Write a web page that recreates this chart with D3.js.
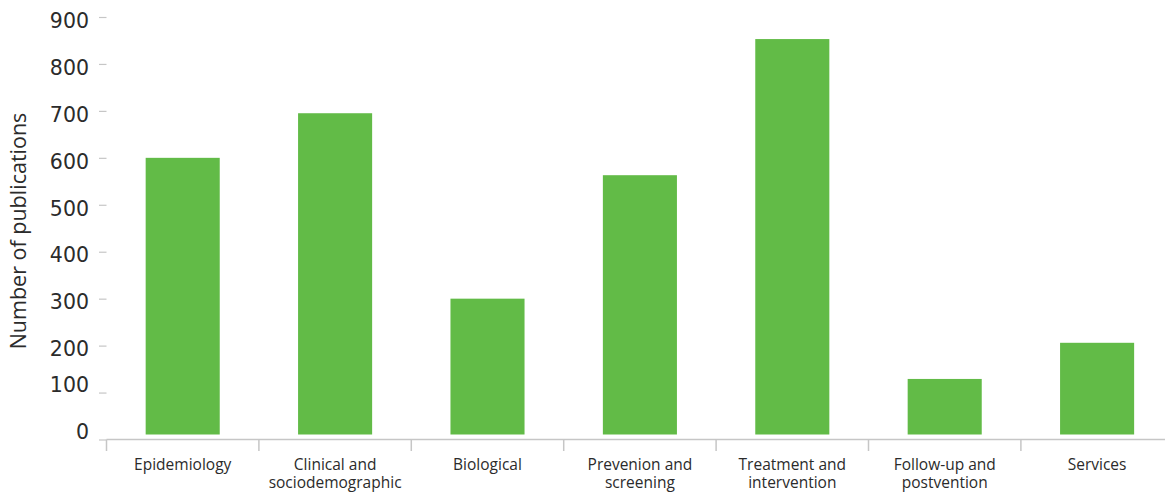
<!DOCTYPE html>
<html>
<head>
<meta charset="utf-8">
<script src="https://cdn.jsdelivr.net/npm/d3@7"></script>
<style>
  html, body { margin: 0; padding: 0; background: #fff; }
  svg { display: block; }
</style>
</head>
<body>
<svg id="chart" width="1165" height="492"></svg>
<script>
const categories = [
  "Epidemiology",
  "Clinical and sociodemographic",
  "Biological",
  "Prevenion and screening",
  "Treatment and intervention",
  "Follow-up and postvention",
  "Services"
];
const categoryLines = [
  ["Epidemiology"],
  ["Clinical and", "sociodemographic"],
  ["Biological"],
  ["Prevenion and", "screening"],
  ["Treatment and", "intervention"],
  ["Follow-up and", "postvention"],
  ["Services"]
];
const publications = [600, 695, 300, 563, 853, 129, 206];
const yTicks = [0, 100, 200, 300, 400, 500, 600, 700, 800, 900];
const yTitle = "Number of publications";

const svg = d3.select("#chart");
const left = 106.5, bandStep = 152.4;
const x = d3.scaleBand()
  .domain(categories)
  .range([left, left + bandStep * categories.length])
  .paddingInner(0.514)
  .paddingOuter(0.257);
const y = d3.scaleLinear().domain([0, 900]).range([439.5, 17]);

const green = "#62bb47";
const textColor = "#2b2b2b";
const gridGray = "#c6c6c6";

// bars
svg.append("g").selectAll("rect")
  .data(publications)
  .join("rect")
  .attr("x", (d, i) => x(categories[i]))
  .attr("width", x.bandwidth())
  .attr("y", d => y(d))
  .attr("height", d => y(0) - y(d) - 5)
  .attr("fill", green);

// y axis
const yAxis = svg.append("g")
  .attr("transform", `translate(${left},0)`)
  .call(d3.axisLeft(y).tickValues(yTicks).tickSize(7.5).tickPadding(10).tickFormat(d3.format("d")));
yAxis.select(".domain").remove();
yAxis.selectAll(".tick line").attr("stroke", gridGray).attr("stroke-width", 1.2);
yAxis.selectAll(".tick text")
  .attr("fill", textColor)
  .attr("dy", d => d <= 100 ? "-0.05em" : "0.5em")
  .style("font-family", "'DejaVu Sans', sans-serif")
  .style("font-size", "20.5px");

// x axis line and separators
const xAxisG = svg.append("g").attr("transform", `translate(0,${y(0)})`);
xAxisG.append("line")
  .attr("x1", left).attr("x2", 1165)
  .attr("stroke", gridGray).attr("stroke-width", 1.5);
const boundaries = d3.range(categories.length).map(i => x(categories[i]) - x.step() * x.paddingOuter());
xAxisG.selectAll("line.sep")
  .data(boundaries)
  .join("line")
  .attr("class", "sep")
  .attr("x1", d => d).attr("x2", d => d)
  .attr("y1", 0).attr("y2", 11.5)
  .attr("stroke", gridGray).attr("stroke-width", 1.5);

// x labels
const labels = svg.append("g").selectAll("text")
  .data(categoryLines)
  .join("text")
  .attr("text-anchor", "middle")
  .attr("fill", textColor)
  .style("font-family", "'Open Sans', sans-serif")
  .style("font-size", "15.5px")
  .attr("transform", (d, i) => `translate(${x(categories[i]) + x.bandwidth() / 2},470)`);
labels.selectAll("tspan")
  .data(d => d)
  .join("tspan")
  .attr("x", 0)
  .attr("y", (d, j) => j * 17.5)
  .text(d => d);

// y title
svg.append("text")
  .attr("transform", "translate(26,231) rotate(-90)")
  .attr("text-anchor", "middle")
  .attr("fill", textColor)
  .style("font-family", "'Open Sans', sans-serif")
  .style("font-size", "21.5px")
  .text(yTitle);
</script>
</body>
</html>
